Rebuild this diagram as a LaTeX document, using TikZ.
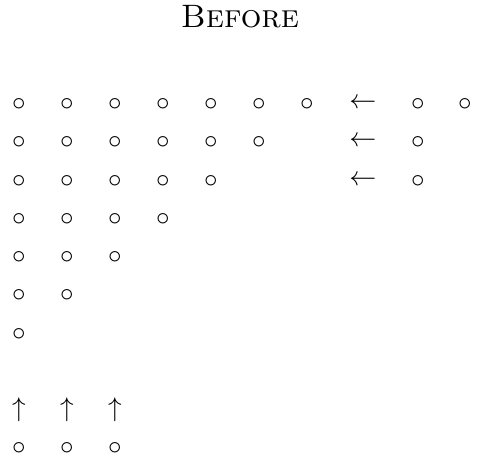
\documentclass[tikz,border=0pt]{standalone}
\usepackage{tikz}
\usetikzlibrary{positioning}

\tikzset{
  pt/.style={inner sep=0pt, outer sep=0pt},
}

\begin{document}
\begin{tikzpicture}[x=0.37pt, y=-0.37pt]
  \useasboundingbox (0,0) rectangle (477,461);
  \node[pt] (title) at (240,17) {\large\textsc{Before}};
  % the triangle of circles
  \foreach \r/\y in {1/104,2/142,3/181,4/219,5/257,6/295,7/334} {
    \pgfmathtruncatemacro{\last}{8-\r}
    \foreach \c in {1,...,\last} {
      \node[pt] (c-\r-\c) at ({19+48*(\c-1)},\y) {$\circ$};
    }
  }
  % right part
  \node[pt] (l-1) at (363,104) {$\leftarrow$};
  \node[pt] (l-2) at (363,142) {$\leftarrow$};
  \node[pt] (l-3) at (363,181) {$\leftarrow$};
  \node[pt] (r-1-1) at (418,104) {$\circ$};
  \node[pt] (r-1-2) at (465,104) {$\circ$};
  \node[pt] (r-2-1) at (418,142) {$\circ$};
  \node[pt] (r-3-1) at (418,181) {$\circ$};
  % bottom part
  \foreach \c in {1,2,3} {
    \node[pt] (u-\c) at ({19+48*(\c-1)},410) {$\uparrow$};
    \node[pt] (b-\c) at ({19+48*(\c-1)},448) {$\circ$};
  }
\end{tikzpicture}
\end{document}
